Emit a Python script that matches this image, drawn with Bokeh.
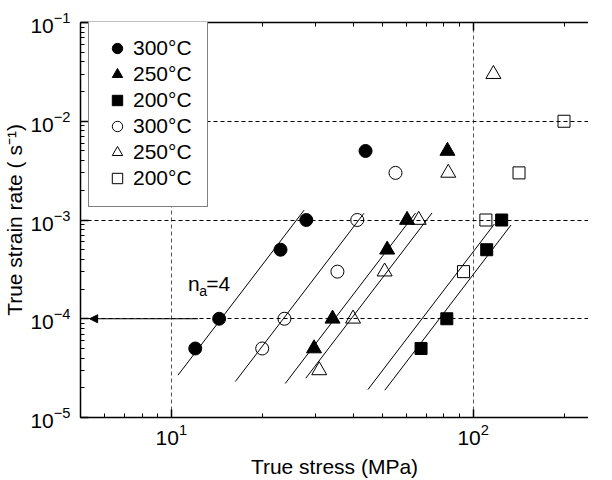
import numpy as np
from bokeh.plotting import figure
from bokeh.models import (LogAxis, Legend, LegendItem, Label, Arrow, NormalHead,
                          FixedTicker, LogTickFormatter, CustomJSTickFormatter)
from bokeh.embed import file_html
from bokeh.resources import INLINE

FONT = "Liberation Sans"

# ---- data ----
# filled symbols
f300_x = [12.0, 14.4, 23.0, 28.0, 44.0]
f300_y = [5e-5, 1e-4, 5e-4, 1e-3, 5e-3]
f250_x = [29.7, 34.2, 51.9, 60.4, 82.2]
f250_y = [5e-5, 1e-4, 5e-4, 1e-3, 5e-3]
f200_x = [67.2, 81.8, 110.9, 124.3]
f200_y = [5e-5, 1e-4, 5e-4, 1e-3]
# open symbols
o300_x = [20.0, 23.7, 35.5, 41.3, 55.3]
o300_y = [5e-5, 1e-4, 3e-4, 1e-3, 3e-3]
o250_x = [30.9, 40.0, 50.9, 66.0, 82.7, 116.7]
o250_y = [3e-5, 1e-4, 3e-4, 1e-3, 3e-3, 3e-2]
o200_x = [92.9, 110.2, 141.9, 200.0]
o200_y = [3e-4, 1e-3, 3e-3, 1e-2]

labels = ["300°C", "250°C", "200°C", "300°C", "250°C", "200°C"]

# fitted power-law lines: rate = K * stress^n_a
n_a = 4
fit_K = [2.19e-9, 3.28e-10, 6.84e-11, 4.13e-11, 4.76e-12, 2.80e-12]
fit_x0 = [10.52, 16.30, 23.84, 27.9, 44.8, 50.96]
fit_x1 = [27.54, 43.46, 64.4, 73.07, 117.6, 133.5]

# axes ticks
x_major = [10, 100]
x_minor = [6, 7, 8, 9, 20, 30, 40, 50, 60, 70, 80, 90, 200]

grid_x = [10, 100]
grid_y = [1e-4, 1e-3, 1e-2]
arrow_y = 1e-4
arrow_x = [12.25, 5.36]

p = figure(width=588, height=480, x_axis_type="log", y_axis_type="log",
           x_range=(5, 241.1), y_range=(1e-5, 1e-1),
           output_backend="svg", toolbar_location=None,
           min_border_left=78, min_border_right=0, min_border_top=22,
           min_border_bottom=62)
p.outline_line_color = None
p.background_fill_color = "white"
p.border_fill_color = "white"

bottom = p.below[0]
left = p.left[0]
bottom.axis_label = "True stress (MPa)"
left.axis_label = "True strain rate ( s⁻¹)"

bottom.ticker = FixedTicker(ticks=x_major, minor_ticks=x_minor)
bottom.formatter = LogTickFormatter()

top = LogAxis(ticker=FixedTicker(ticks=x_major, minor_ticks=x_minor),
              formatter=CustomJSTickFormatter(code="return ''"),
              major_label_text_font_size="1px", major_label_standoff=0)
p.add_layout(top, "above")

# grid
p.xgrid.ticker = FixedTicker(ticks=grid_x)
p.ygrid.ticker = FixedTicker(ticks=grid_y)
p.xgrid.grid_line_color = "#555555"
p.ygrid.grid_line_color = "black"
for g in (p.xgrid[0], p.ygrid[0]):
    g.grid_line_dash = "4 3"
    g.grid_line_width = 1

for ax in (bottom, left, top):
    ax.axis_line_width = 1.5
    ax.axis_line_color = "black"
    ax.major_tick_in = 8
    ax.major_tick_out = 0
    ax.minor_tick_in = 4
    ax.minor_tick_out = 0
    ax.major_tick_line_color = "black"
    ax.minor_tick_line_color = "black"
    ax.major_tick_line_width = 1.5
    ax.minor_tick_line_width = 1

for ax in (bottom, left):
    ax.major_label_text_font = FONT
    ax.major_label_text_font_size = "21px"
    ax.major_label_text_color = "black"
    ax.axis_label_text_font = FONT
    ax.axis_label_text_font_size = "21px"
    ax.axis_label_text_font_style = "normal"
    ax.axis_label_text_color = "black"
bottom.major_label_standoff = 6
bottom.axis_label_standoff = 7
left.major_label_standoff = 10
left.axis_label_standoff = 1

# fit lines
for K, x0, x1 in zip(fit_K, fit_x0, fit_x1):
    xs = np.array([x0, x1])
    p.line(xs, K * xs ** n_a, line_color="black", line_width=1)

# arrow
p.add_layout(Arrow(end=NormalHead(size=8, fill_color="black", line_color="black"),
                   x_start=arrow_x[0], y_start=arrow_y, x_end=arrow_x[1], y_end=arrow_y,
                   line_color="black", line_width=1))

# markers
series = [
    (f300_x, f300_y, "circle", 13, True),
    (f250_x, f250_y, "triangle", 15, True),
    (f200_x, f200_y, "square", 12, True),
    (o300_x, o300_y, "circle", 13, False),
    (o250_x, o250_y, "triangle", 15, False),
    (o200_x, o200_y, "square", 12, False),
]
items = []
for (xs, ys, mk, sz, filled), lab in zip(series, labels):
    r = p.scatter(xs, ys, marker=mk, size=sz,
                  fill_color="black" if filled else None,
                  line_color="black", line_width=1)
    items.append(LegendItem(label=lab, renderers=[r]))

legend = Legend(items=items, location=(8, 210),
                border_line_color="black", border_line_width=1,
                background_fill_color="white", background_fill_alpha=1,
                padding=15, spacing=0, label_height=26, glyph_height=26,
                glyph_width=26, label_standoff=3, margin=0,
                label_text_font=FONT, label_text_font_size="21px",
                label_text_color="black")
p.add_layout(legend)

# n_a = 4 annotation
p.add_layout(Label(x=11.35, y=2.30e-4, text="n", text_font=FONT, text_color="black",
                   text_font_size="21px", text_baseline="alphabetic"))
p.add_layout(Label(x=12.37, y=1.89e-4, text="a", text_font=FONT, text_color="black",
                   text_font_size="14px", text_baseline="alphabetic"))
p.add_layout(Label(x=13.05, y=2.30e-4, text="=4", text_font=FONT, text_color="black",
                   text_font_size="21px", text_baseline="alphabetic"))

open("out.html", "w").write(file_html(p, INLINE))
